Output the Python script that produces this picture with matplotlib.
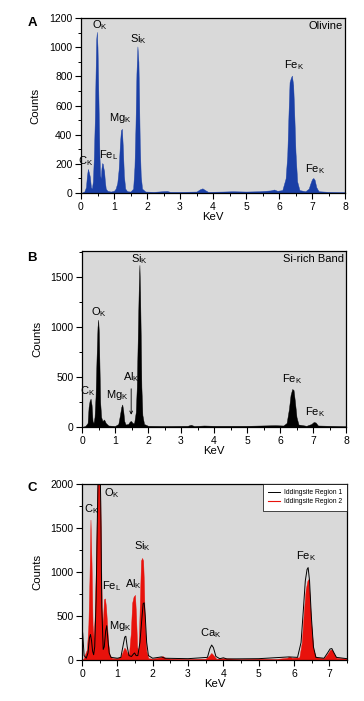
import matplotlib
matplotlib.use("Agg")
import matplotlib.pyplot as plt
from matplotlib.ticker import MultipleLocator

plt.rcParams['font.family'] = ['Liberation Sans', 'DejaVu Sans']
plt.rcParams['mathtext.default'] = 'regular'

# ---------------- data ----------------
# Panel A: Olivine
a_keV = [0.00, 0.05, 0.10, 0.15, 0.18, 0.21, 0.24, 0.27, 0.30, 0.33, 0.36, 0.39, 0.42, 0.44, 0.46,
         0.48, 0.50, 0.52, 0.54, 0.56, 0.58, 0.60, 0.62, 0.64, 0.66, 0.68, 0.70, 0.72, 0.75, 0.80,
         0.90, 1.00, 1.05, 1.10, 1.14, 1.18, 1.21, 1.24, 1.27, 1.30, 1.34, 1.40, 1.50, 1.58, 1.62,
         1.65, 1.68, 1.71, 1.74, 1.76, 1.78, 1.81, 1.85, 1.95, 2.20, 2.60, 2.70, 3.00, 3.50, 3.60,
         3.68, 3.76, 3.85, 4.30, 4.60, 5.00, 5.40, 5.75, 5.85, 5.95, 6.10, 6.20, 6.25, 6.29, 6.32,
         6.36, 6.39, 6.43, 6.46, 6.50, 6.55, 6.62, 6.80, 6.90, 6.95, 7.00, 7.04, 7.08, 7.13, 7.20,
         7.50, 8.00]
a_counts = [0, 5, 10, 40, 120, 165, 140, 110, 40, 30, 80, 250, 520, 800, 1050,
            1105, 1000, 760, 500, 250, 120, 100, 170, 205, 200, 170, 150, 90, 30, 15,
            10, 15, 30, 70, 160, 340, 430, 440, 300, 120, 30, 12, 10, 30, 180,
            450, 820, 1005, 900, 650, 350, 120, 30, 10, 8, 14, 8, 8, 10, 25,
            32, 20, 8, 10, 12, 10, 12, 18, 24, 15, 20, 100, 260, 560, 760,
            790, 805, 740, 560, 280, 80, 20, 12, 30, 65, 95, 103, 90, 40, 12,
            8, 6]

# Panel B: Si-rich Band
b_keV = [0.00, 0.10, 0.17, 0.20, 0.23, 0.26, 0.29, 0.32, 0.35, 0.38, 0.41, 0.44, 0.47, 0.49, 0.51,
         0.53, 0.55, 0.58, 0.62, 0.67, 0.72, 0.80, 1.00, 1.10, 1.15, 1.19, 1.22, 1.25, 1.28, 1.32,
         1.40, 1.45, 1.49, 1.53, 1.58, 1.63, 1.66, 1.69, 1.72, 1.74, 1.76, 1.78, 1.80, 1.83, 1.88,
         2.00, 2.50, 3.20, 3.30, 3.40, 3.70, 4.00, 5.00, 5.85, 6.10, 6.20, 6.27, 6.32, 6.37, 6.41,
         6.45, 6.50, 6.56, 6.80, 6.95, 7.02, 7.08, 7.15, 8.00]
b_counts = [0, 10, 40, 200, 260, 283, 220, 60, 40, 100, 300, 680, 1000, 1073, 950,
            600, 250, 100, 60, 75, 40, 15, 10, 30, 120, 200, 225, 160, 60, 25,
            30, 55, 60, 40, 40, 150, 400, 900, 1400, 1620, 1350, 900, 400, 120, 30,
            12, 10, 12, 22, 10, 15, 12, 12, 18, 15, 40, 180, 320, 380, 370,
            260, 100, 25, 12, 30, 50, 45, 15, 8]

# Panel C: Iddingsite Region 2 (red, filled)
c2_keV = [0.00, 0.05, 0.10, 0.14, 0.18, 0.21, 0.24, 0.27, 0.30, 0.33, 0.36, 0.40, 0.43, 0.46, 0.50,
          0.53, 0.56, 0.59, 0.62, 0.65, 0.68, 0.71, 0.74, 0.78, 0.85, 1.00, 1.10, 1.16, 1.20, 1.24,
          1.28, 1.33, 1.38, 1.42, 1.46, 1.50, 1.53, 1.56, 1.60, 1.64, 1.67, 1.70, 1.73, 1.75, 1.78,
          1.82, 1.88, 2.00, 2.20, 2.28, 2.36, 2.50, 3.00, 3.50, 3.60, 3.66, 3.72, 3.80, 4.00, 4.50,
          5.00, 5.50, 5.80, 5.87, 5.94, 6.15, 6.22, 6.28, 6.33, 6.38, 6.41, 6.44, 6.49, 6.55, 6.62,
          6.85, 6.95, 7.02, 7.07, 7.12, 7.20, 7.50]
c2_counts = [0, 20, 80, 120, 400, 900, 1595, 1100, 400, 250, 500, 1200, 1900, 2200, 2300,
             1500, 600, 400, 690, 700, 600, 400, 200, 60, 20, 20, 40, 100, 140, 120,
             80, 70, 300, 650, 720, 740, 500, 150, 100, 700, 1130, 1160, 1130, 900, 400,
             100, 20, 15, 30, 45, 25, 15, 12, 15, 50, 80, 55, 15, 20, 12,
             15, 12, 25, 40, 25, 30, 200, 550, 800, 900, 920, 750, 400, 120, 30,
             20, 70, 115, 120, 80, 25, 15]

# Panel C: Iddingsite Region 1 (black line)
c1_keV = [0.00, 0.02, 0.06, 0.12, 0.17, 0.21, 0.24, 0.27, 0.30, 0.33, 0.36, 0.40, 0.43, 0.46, 0.50,
          0.53, 0.56, 0.60, 0.63, 0.67, 0.70, 0.73, 0.77, 0.82, 1.00, 1.10, 1.17, 1.21, 1.24, 1.28,
          1.33, 1.40, 1.46, 1.49, 1.53, 1.58, 1.64, 1.69, 1.73, 1.76, 1.79, 1.83, 1.88, 2.00, 2.25,
          2.35, 3.00, 3.55, 3.62, 3.67, 3.72, 3.79, 3.90, 4.00, 4.10, 5.00, 5.85, 6.10, 6.20, 6.27,
          6.32, 6.37, 6.40, 6.44, 6.49, 6.55, 6.62, 6.85, 6.95, 7.02, 7.07, 7.12, 7.20, 7.50]
c1_counts = [380, 300, 50, 20, 80, 250, 290, 220, 100, 60, 150, 700, 1500, 2200, 2400,
             1800, 600, 120, 150, 330, 390, 250, 80, 30, 20, 30, 180, 260, 270, 150,
             50, 40, 70, 80, 50, 50, 200, 450, 640, 650, 500, 200, 50, 20, 35,
             20, 15, 30, 130, 170, 140, 40, 15, 25, 12, 15, 35, 30, 200, 600,
             900, 1030, 1050, 900, 500, 150, 30, 20, 80, 125, 130, 90, 30, 15]

# ---------------- figure ----------------
W, H = 364, 701
fig = plt.figure(figsize=(W / 100, H / 100), dpi=100)

def px_axes(l, t, r, b):
    return fig.add_axes([l / W, 1 - b / H, (r - l) / W, (b - t) / H])

bg = '#d9d9d9'
blue = '#1a3fa6'
red = '#e8120c'
fs_tick = 7.5
fs_lab = 8.2
fs_ann = 8

def style(ax, xmax, ymax, ymaj, ymin):
    ax.set_facecolor(bg)
    ax.set_xlim(0, xmax)
    ax.set_ylim(0, ymax)
    ax.xaxis.set_major_locator(MultipleLocator(1))
    ax.xaxis.set_minor_locator(MultipleLocator(0.5))
    ax.yaxis.set_major_locator(MultipleLocator(ymaj))
    ax.yaxis.set_minor_locator(MultipleLocator(ymin))
    ax.tick_params(which='major', direction='out', length=4, width=0.8, pad=2.2, labelsize=fs_tick)
    ax.tick_params(which='minor', direction='out', length=2.5, width=0.7)
    for s in ax.spines.values():
        s.set_linewidth(0.9)
    ax.set_xlabel('KeV', fontsize=fs_lab, labelpad=0.5)
    ax.set_ylabel('Counts', fontsize=fs_lab, labelpad=6)

def ann(ax, x, y, s):
    ax.text(x, y, s, fontsize=fs_ann, ha='center', va='center')

# Panel A
axA = px_axes(81, 18, 345, 193)
axA.fill_between(a_keV, a_counts, color=blue, lw=0.3, edgecolor=blue)
style(axA, 8, 1200, 200, 100)
ann(axA, 0.14, 217, 'C$_K$')
ann(axA, 0.56, 1150, 'O$_K$')
ann(axA, 0.84, 263, 'Fe$_L$')
ann(axA, 1.20, 514, 'Mg$_K$')
ann(axA, 1.73, 1056, 'Si$_K$')
ann(axA, 6.46, 880, 'Fe$_K$')
ann(axA, 7.09, 167, 'Fe$_K$')
axA.text(7.93, 1143, 'Olivine', fontsize=fs_ann, ha='right', va='center')
fig.text(32 / W, 1 - 23 / H, 'A', fontsize=9.5, fontweight='bold', ha='center', va='center')

# Panel B
axB = px_axes(82, 251, 346, 427)
axB.fill_between(b_keV, b_counts, color='black', lw=0.3, edgecolor='black')
style(axB, 8, 1760, 500, 250)
ann(axB, 0.18, 357, 'C$_K$')
ann(axB, 0.52, 1150, 'O$_K$')
ann(axB, 1.06, 323, 'Mg$_K$')
ann(axB, 1.50, 500, 'Al$_K$')
ann(axB, 1.75, 1683, 'Si$_K$')
ann(axB, 6.37, 477, 'Fe$_K$')
ann(axB, 7.06, 147, 'Fe$_K$')
axB.annotate('', xy=(1.49, 95), xytext=(1.49, 410),
             arrowprops=dict(arrowstyle='->', lw=0.6, color='black', mutation_scale=5))
axB.text(7.93, 1683, 'Si-rich Band', fontsize=fs_ann, ha='right', va='center')
fig.text(32 / W, 1 - 258 / H, 'B', fontsize=9.5, fontweight='bold', ha='center', va='center')

# Panel C
axC = px_axes(82, 484, 347, 660)
axC.fill_between(c2_keV, c2_counts, color=red, lw=0.3, edgecolor=red, label='_nolegend_')
axC.plot(c1_keV, c1_counts, color='black', lw=0.7, label='Iddingsite Region 1')
axC.plot([], [], color=red, lw=0.8, label='Iddingsite Region 2')
style(axC, 7.5, 2000, 500, 250)
ann(axC, 0.26, 1715, 'C$_K$')
ann(axC, 0.84, 1898, 'O$_K$')
ann(axC, 0.84, 835, 'Fe$_L$')
ann(axC, 1.08, 391, 'Mg$_K$')
ann(axC, 1.47, 861, 'Al$_K$')
ann(axC, 1.71, 1298, 'Si$_K$')
ann(axC, 3.64, 311, 'Ca$_K$')
ann(axC, 6.35, 1176, 'Fe$_K$')
leg = axC.legend(loc='upper right', fontsize=4.9, frameon=True, fancybox=False,
                 edgecolor='black', framealpha=1, handlelength=1.8, borderpad=0.75,
                 labelspacing=0.35, handletextpad=0.5, borderaxespad=0.0, handleheight=0.6)
leg.get_frame().set_linewidth(0.5)
fig.text(32 / W, 1 - 488 / H, 'C', fontsize=9.5, fontweight='bold', ha='center', va='center')

fig.savefig('out.png', dpi=100)
